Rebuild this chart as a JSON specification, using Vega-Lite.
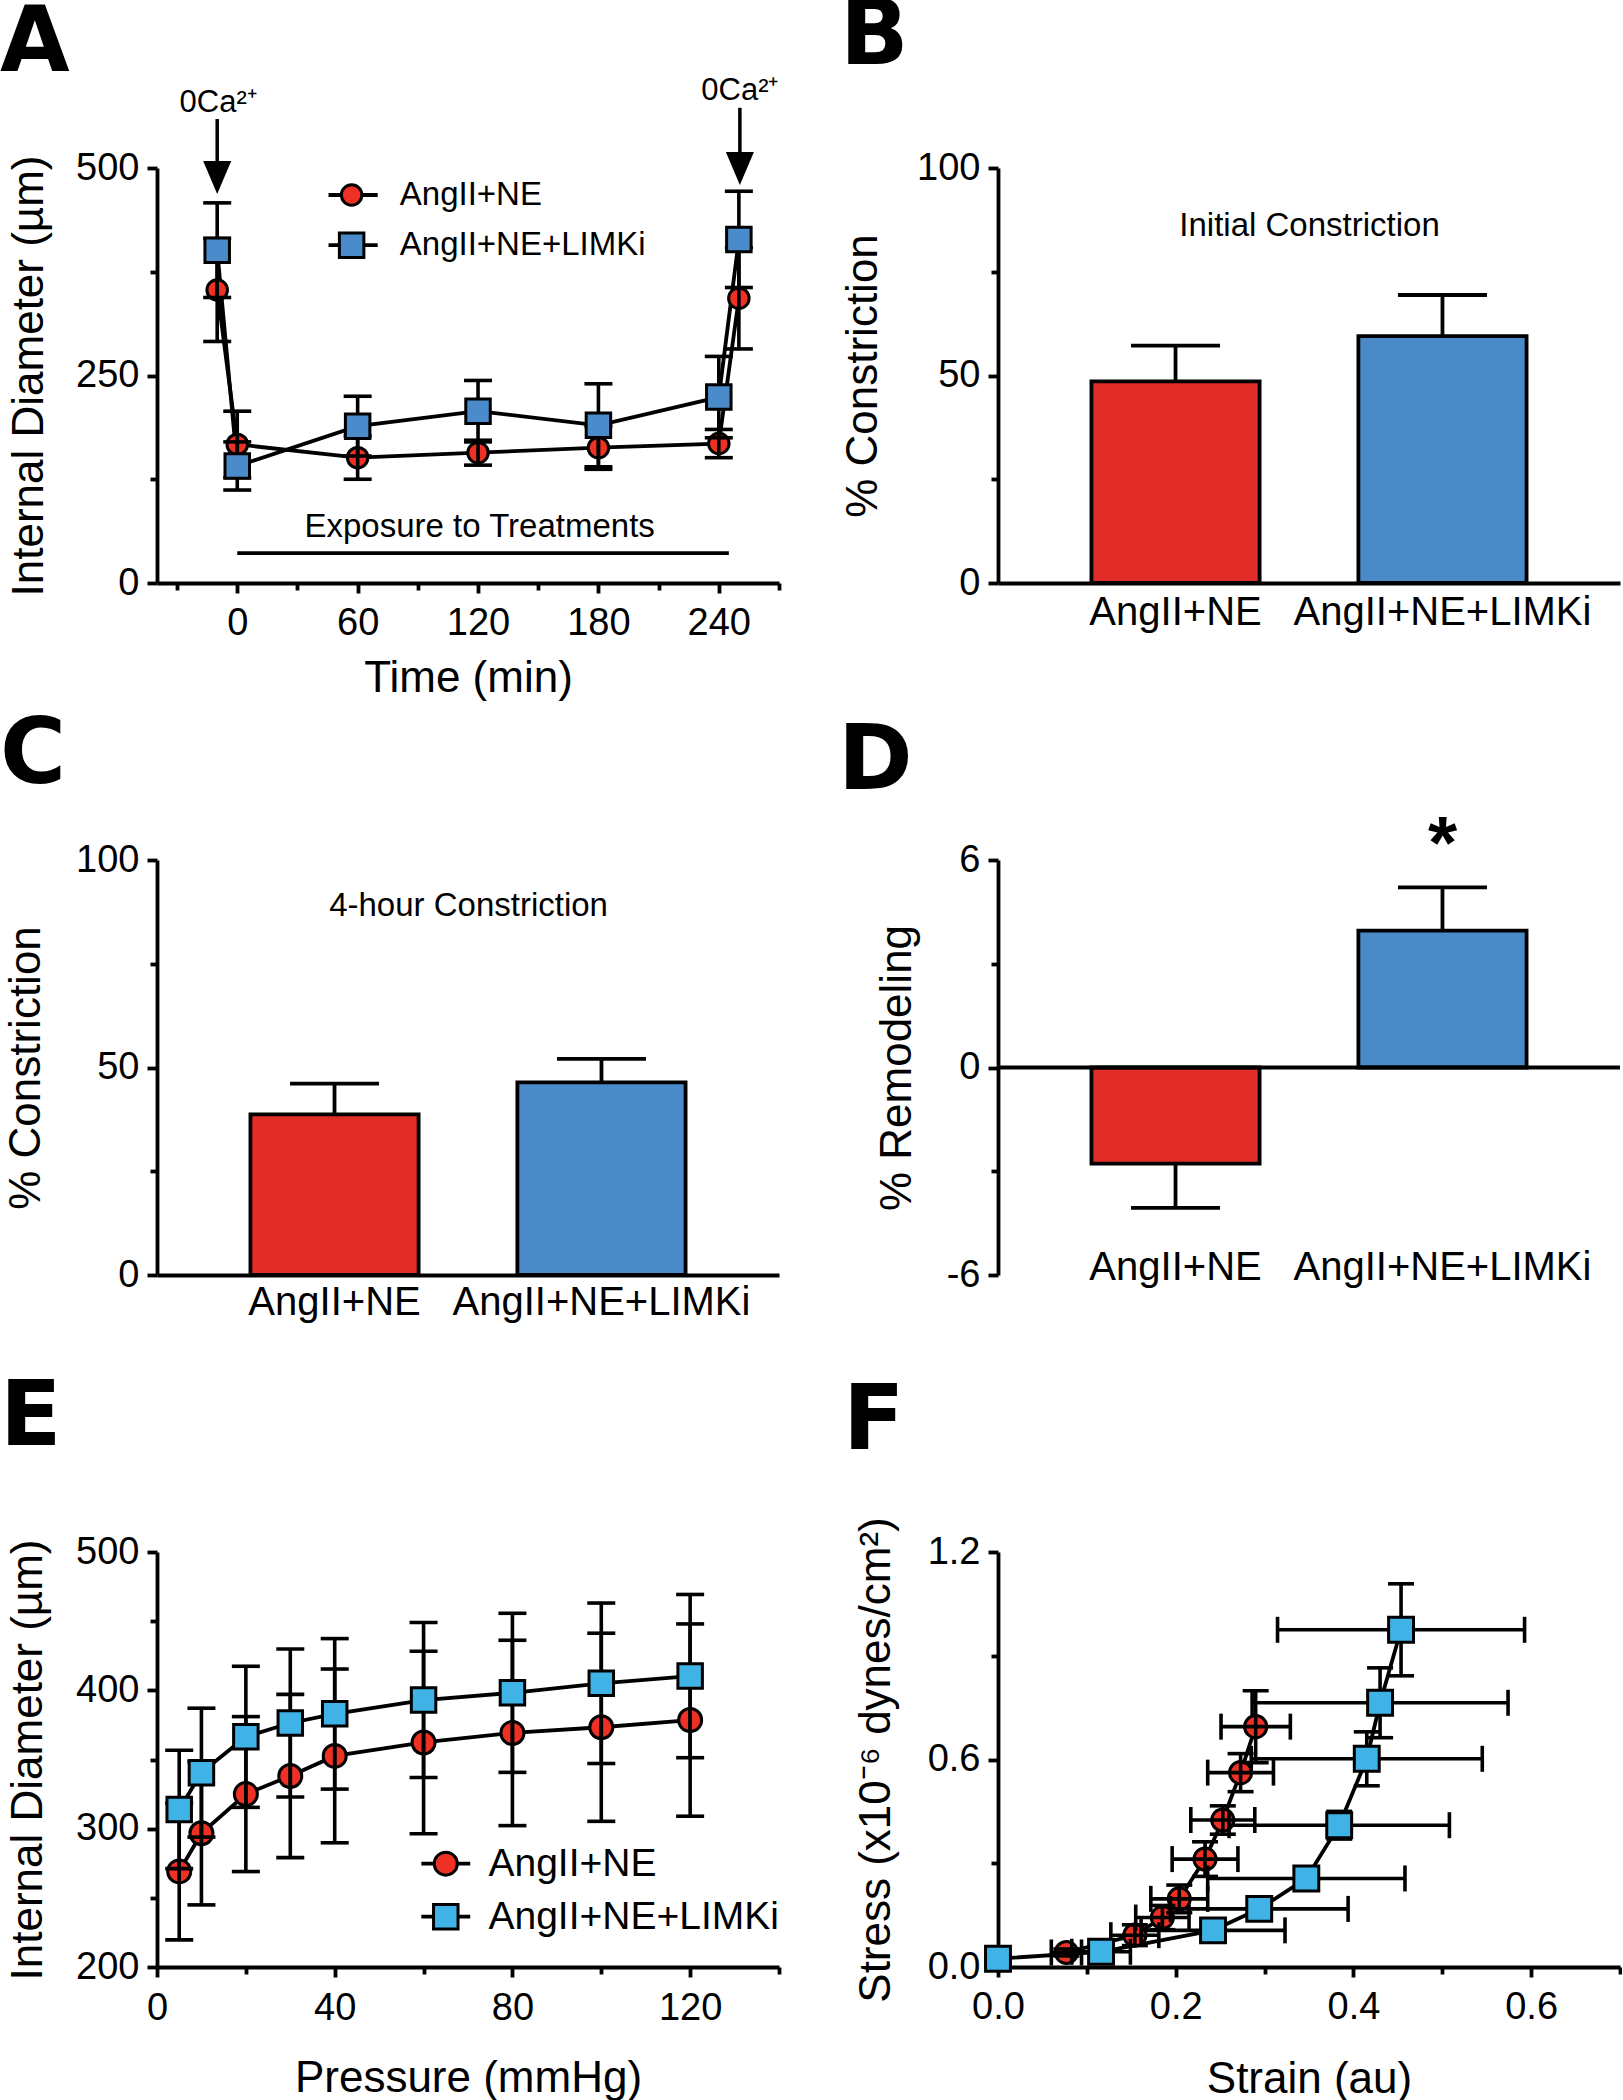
{
  "$schema": "https://vega.github.io/schema/vega-lite/v6.json",
  "background": "white",
  "padding": {"left": 0, "top": -9, "right": 0, "bottom": 0},
  "columns": 2,
  "bounds": "flush",
  "align": "all",
  "spacing": {"row": 277, "column": 219},
  "config": {
    "font": "Liberation Sans, Arial, Helvetica, sans-serif",
    "view": {"stroke": null},
    "axis": {
      "domainColor": "black", "domainWidth": 3.8, "tickColor": "black", "tickWidth": 3.8, "tickSize": 10,
      "labelFontSize": 38, "labelColor": "black", "labelPadding": 8, "labelFlush": false, "labelOverlap": false, "labelBound": false, "labelLimit": 0,
      "titleFontSize": 44, "titleFontWeight": "normal", "titleColor": "black", "grid": false
    },
    "title": {"font": "DejaVu Sans, Liberation Sans, sans-serif", "fontSize": 90, "fontWeight": "bold", "anchor": "start", "frame": "group", "color": "black", "baseline": "alphabetic"}
  },
  "concat": [
    {
      "title": {"text": "A", "dx": -157, "offset": -15.5},
      "width": 622, "height": 415,
      "data": {"values": [
        {"series": "AngII+NE", "time": -10, "diameter": 353, "sem": 62},
        {"series": "AngII+NE", "time": 0, "diameter": 167, "sem": 40},
        {"series": "AngII+NE", "time": 60, "diameter": 151, "sem": 26},
        {"series": "AngII+NE", "time": 120, "diameter": 157, "sem": 15},
        {"series": "AngII+NE", "time": 180, "diameter": 163, "sem": 26},
        {"series": "AngII+NE", "time": 240, "diameter": 168, "sem": 17},
        {"series": "AngII+NE", "time": 250, "diameter": 343, "sem": 61},
        {"series": "AngII+NE+LIMKi", "time": -10, "diameter": 401, "sem": 57},
        {"series": "AngII+NE+LIMKi", "time": 0, "diameter": 141, "sem": 29},
        {"series": "AngII+NE+LIMKi", "time": 60, "diameter": 189, "sem": 36},
        {"series": "AngII+NE+LIMKi", "time": 120, "diameter": 207, "sem": 37},
        {"series": "AngII+NE+LIMKi", "time": 180, "diameter": 190, "sem": 50},
        {"series": "AngII+NE+LIMKi", "time": 240, "diameter": 224, "sem": 49},
        {"series": "AngII+NE+LIMKi", "time": 250, "diameter": 414, "sem": 58}
      ]},
      "layer": [
        {
          "mark": {"type": "line", "color": "black", "strokeWidth": 3.8},
          "encoding": {
            "x": {"field": "time", "type": "quantitative", "title": "Time (min)", "scale": {"domain": [-40, 270], "nice": false, "zero": false},
              "axis": {"values": [-30, 0, 30, 60, 90, 120, 150, 180, 210, 240, 270],
                "labelExpr": "datum.value % 60 == 0 ? datum.label : ''",
                "tickSize": {"condition": {"test": "datum.value % 60 == 0", "value": 10}, "value": 7},
                "labelPadding": 11, "titlePadding": 14}},
            "y": {"field": "diameter", "type": "quantitative", "title": "Internal Diameter (µm)", "scale": {"domain": [0, 500], "nice": false},
              "axis": {"values": [0, 125, 250, 375, 500],
                "labelExpr": "datum.value % 250 == 0 ? datum.label : ''",
                "tickSize": {"condition": {"test": "datum.value % 250 == 0", "value": 10}, "value": 7},
                "titlePadding": 24}},
            "detail": {"field": "series"}
          }
        },
        {
          "transform": [{"filter": "datum.series == 'AngII+NE'"}],
          "mark": {"type": "point", "shape": "circle", "filled": true, "fill": "#ee3124", "stroke": "black", "strokeWidth": 3, "size": 420, "opacity": 1},
          "encoding": {"x": {"field": "time", "type": "quantitative", "title": "Time (min)"}, "y": {"field": "diameter", "type": "quantitative", "title": "Internal Diameter (µm)"}}
        },
        {
          "mark": {"type": "errorbar", "size": 28, "thickness": 3.6, "ticks": {"color": "black", "opacity": 1}, "rule": {"color": "black"}},
          "encoding": {"x": {"field": "time", "type": "quantitative", "title": "Time (min)"}, "y": {"field": "diameter", "type": "quantitative", "title": "Internal Diameter (µm)"}, "yError": {"field": "sem"}}
        },
        {
          "transform": [{"filter": "datum.series == 'AngII+NE+LIMKi'"}],
          "mark": {"type": "point", "shape": "square", "filled": true, "fill": "#4a8bcb", "stroke": "black", "strokeWidth": 3, "size": 600, "opacity": 1},
          "encoding": {"x": {"field": "time", "type": "quantitative", "title": "Time (min)"}, "y": {"field": "diameter", "type": "quantitative", "title": "Internal Diameter (µm)"}}
        },
        {
          "data": {"values": [{"label": "Exposure to Treatments"}]},
          "layer": [
            {"mark": {"type": "rule", "color": "black", "strokeWidth": 3.8}, "encoding": {"x": {"datum": 0}, "x2": {"datum": 245}, "y": {"datum": 36}}},
            {"mark": {"type": "text", "fontSize": 33, "align": "center", "baseline": "middle"}, "encoding": {"x": {"datum": 120.8}, "y": {"datum": 67.5}, "text": {"field": "label"}}}
          ]
        },
        {
          "data": {"values": [{"label": "0Ca²⁺"}]},
          "layer": [
            {"mark": {"type": "rule", "color": "black", "strokeWidth": 3.5}, "encoding": {"x": {"datum": -10}, "y": {"datum": 559}, "y2": {"datum": 492}}},
            {"mark": {"type": "point", "shape": "M0,1L-0.85,-1L0.85,-1Z", "filled": true, "color": "black", "opacity": 1, "size": 1089}, "encoding": {"x": {"datum": -10}, "y": {"datum": 488.6}}},
            {"mark": {"type": "text", "fontSize": 31, "align": "center", "baseline": "alphabetic"}, "encoding": {"x": {"datum": -9.5}, "y": {"datum": 568}, "text": {"field": "label"}}},
            {"mark": {"type": "rule", "color": "black", "strokeWidth": 3.5}, "encoding": {"x": {"datum": 250.5}, "y": {"datum": 572.5}, "y2": {"datum": 503}}},
            {"mark": {"type": "point", "shape": "M0,1L-0.85,-1L0.85,-1Z", "filled": true, "color": "black", "opacity": 1, "size": 1089}, "encoding": {"x": {"datum": 250.5}, "y": {"datum": 499.4}}},
            {"mark": {"type": "text", "fontSize": 31, "align": "center", "baseline": "alphabetic"}, "encoding": {"x": {"datum": 250.5}, "y": {"datum": 582}, "text": {"field": "label"}}}
          ]
        },
        {
          "data": {"values": [{"label": "AngII+NE"}]},
          "layer": [
            {"mark": {"type": "rule", "color": "black", "strokeWidth": 3.8}, "encoding": {"x": {"datum": 45.5}, "x2": {"datum": 70}, "y": {"datum": 467.5}}},
            {"mark": {"type": "point", "shape": "circle", "filled": true, "fill": "#ee3124", "stroke": "black", "strokeWidth": 3, "size": 420, "opacity": 1}, "encoding": {"x": {"datum": 57}, "y": {"datum": 467.5}}},
            {"mark": {"type": "text", "fontSize": 33, "align": "left", "baseline": "middle"}, "encoding": {"x": {"datum": 81}, "y": {"datum": 467.5}, "text": {"field": "label"}}}
          ]
        },
        {
          "data": {"values": [{"label": "AngII+NE+LIMKi"}]},
          "layer": [
            {"mark": {"type": "rule", "color": "black", "strokeWidth": 3.8}, "encoding": {"x": {"datum": 45.5}, "x2": {"datum": 70}, "y": {"datum": 407}}},
            {"mark": {"type": "point", "shape": "square", "filled": true, "fill": "#4a8bcb", "stroke": "black", "strokeWidth": 3, "size": 600, "opacity": 1}, "encoding": {"x": {"datum": 57}, "y": {"datum": 407}}},
            {"mark": {"type": "text", "fontSize": 33, "align": "left", "baseline": "middle"}, "encoding": {"x": {"datum": 81}, "y": {"datum": 407}, "text": {"field": "label"}}}
          ]
        }
      ]
    },
    {
      "title": {"text": "B", "dx": -158, "offset": 66.5},
      "width": 622, "height": 415,
      "data": {"values": [
        {"group": "AngII+NE", "constriction": 48.6, "upper": 57.2},
        {"group": "AngII+NE+LIMKi", "constriction": 59.5, "upper": 69.4}
      ]},
      "layer": [
        {"mark": {"type": "rule", "strokeWidth": 3.8, "color": "black"},
         "encoding": {
          "x": {"field": "group", "type": "nominal", "title": null, "sort": null, "scale": {"domain": ["AngII+NE", "AngII+NE+LIMKi"], "paddingInner": 0.37, "paddingOuter": 0.35},
            "axis": {"labelAngle": 0, "ticks": false, "tickSize": 0, "labelPadding": 9, "labelFontSize": 40}},
          "y": {"field": "constriction", "type": "quantitative", "title": "% Constriction", "scale": {"domain": [0, 100], "nice": false},
            "axis": {"values": [0, 25, 50, 75, 100],
              "labelExpr": "datum.value % 50 == 0 ? datum.label : ''",
              "tickSize": {"condition": {"test": "datum.value % 50 == 0", "value": 10}, "value": 7},
              "titlePadding": 31}},
          "y2": {"field": "upper"}}},
        {"mark": {"type": "tick", "size": 89, "thickness": 3.8, "color": "black", "opacity": 1},
         "encoding": {"x": {"field": "group", "type": "nominal", "title": null, "sort": null}, "y": {"field": "upper", "type": "quantitative", "title": "% Constriction"}}},
        {"mark": {"type": "bar", "stroke": "black", "strokeWidth": 3.8, "opacity": 1},
         "encoding": {"x": {"field": "group", "type": "nominal", "title": null, "sort": null}, "y": {"field": "constriction", "type": "quantitative", "title": "% Constriction"},
           "fill": {"field": "group", "type": "nominal", "scale": {"domain": ["AngII+NE", "AngII+NE+LIMKi"], "range": ["#e22c28", "#4a8ac8"]}, "legend": null}}},
        {"data": {"values": [{"label": "Initial Constriction"}]},
         "mark": {"type": "text", "fontSize": 33, "dx": 134, "align": "center", "baseline": "middle"},
         "encoding": {"x": {"datum": "AngII+NE"}, "y": {"datum": 86}, "text": {"field": "label"}}}
      ]
    },
    {
      "title": {"text": "C", "dx": -157, "offset": 39},
      "width": 622, "height": 415,
      "data": {"values": [
        {"group": "AngII+NE", "constriction": 38.7, "upper": 46.1},
        {"group": "AngII+NE+LIMKi", "constriction": 46.4, "upper": 52.1}
      ]},
      "layer": [
        {"mark": {"type": "rule", "strokeWidth": 3.8, "color": "black"},
         "encoding": {
          "x": {"field": "group", "type": "nominal", "title": null, "sort": null, "scale": {"domain": ["AngII+NE", "AngII+NE+LIMKi"], "paddingInner": 0.37, "paddingOuter": 0.35},
            "axis": {"labelAngle": 0, "ticks": false, "tickSize": 0, "labelPadding": 7, "labelFontSize": 40}},
          "y": {"field": "constriction", "type": "quantitative", "title": "% Constriction", "scale": {"domain": [0, 100], "nice": false},
            "axis": {"values": [0, 25, 50, 75, 100],
              "labelExpr": "datum.value % 50 == 0 ? datum.label : ''",
              "tickSize": {"condition": {"test": "datum.value % 50 == 0", "value": 10}, "value": 7},
              "titlePadding": 27}},
          "y2": {"field": "upper"}}},
        {"mark": {"type": "tick", "size": 89, "thickness": 3.8, "color": "black", "opacity": 1},
         "encoding": {"x": {"field": "group", "type": "nominal", "title": null, "sort": null}, "y": {"field": "upper", "type": "quantitative", "title": "% Constriction"}}},
        {"mark": {"type": "bar", "stroke": "black", "strokeWidth": 3.8, "opacity": 1},
         "encoding": {"x": {"field": "group", "type": "nominal", "title": null, "sort": null}, "y": {"field": "constriction", "type": "quantitative", "title": "% Constriction"},
           "fill": {"field": "group", "type": "nominal", "scale": {"domain": ["AngII+NE", "AngII+NE+LIMKi"], "range": ["#ec3526", "#4a8ac8"]}, "legend": null}}},
        {"data": {"values": [{"label": "4-hour Constriction"}]},
         "mark": {"type": "text", "fontSize": 33, "dx": 134, "align": "center", "baseline": "middle"},
         "encoding": {"x": {"datum": "AngII+NE"}, "y": {"datum": 88.8}, "text": {"field": "label"}}}
      ]
    },
    {
      "title": {"text": "D", "dx": -160, "offset": 0},
      "width": 622, "height": 415,
      "data": {"values": [
        {"group": "AngII+NE", "remodeling": -2.78, "cap": -4.06},
        {"group": "AngII+NE+LIMKi", "remodeling": 3.96, "cap": 5.21}
      ]},
      "layer": [
        {"mark": {"type": "rule", "strokeWidth": 3.8, "color": "black"},
         "encoding": {
          "x": {"field": "group", "type": "nominal", "title": null, "sort": null, "scale": {"domain": ["AngII+NE", "AngII+NE+LIMKi"], "paddingInner": 0.37, "paddingOuter": 0.35},
            "axis": {"labelAngle": 0, "ticks": false, "tickSize": 0, "domain": false, "labelPadding": -28, "labelFontSize": 40}},
          "y": {"field": "remodeling", "type": "quantitative", "title": "% Remodeling", "scale": {"domain": [-6, 6], "nice": false},
            "axis": {"values": [-6, -3, 0, 3, 6],
              "labelExpr": "datum.value == 0 ? '0' : datum.value == 6 ? '6' : datum.value == -6 ? '-6' : ''",
              "tickSize": {"condition": {"test": "datum.value % 6 == 0", "value": 10}, "value": 7},
              "titlePadding": 27}},
          "y2": {"field": "cap"}}},
        {"mark": {"type": "tick", "size": 89, "thickness": 3.8, "color": "black", "opacity": 1},
         "encoding": {"x": {"field": "group", "type": "nominal", "title": null, "sort": null}, "y": {"field": "cap", "type": "quantitative", "title": "% Remodeling"}}},
        {"mark": {"type": "bar", "stroke": "black", "strokeWidth": 3.8, "opacity": 1},
         "encoding": {"x": {"field": "group", "type": "nominal", "title": null, "sort": null}, "y": {"field": "remodeling", "type": "quantitative", "title": "% Remodeling"},
           "fill": {"field": "group", "type": "nominal", "scale": {"domain": ["AngII+NE", "AngII+NE+LIMKi"], "range": ["#e22c28", "#4a8ac8"]}, "legend": null}}},
        {"data": {"values": [{"label": "zero line"}]},
         "mark": {"type": "rule", "strokeWidth": 3.8, "color": "black"},
         "encoding": {"y": {"datum": 0}}},
        {"data": {"values": [{"label": "*"}]},
         "mark": {"type": "text", "fontSize": 75, "fontWeight": "bold", "align": "center", "baseline": "alphabetic"},
         "encoding": {"x": {"datum": "AngII+NE+LIMKi"}, "y": {"datum": 5.77}, "text": {"field": "label"}}}
      ]
    },
    {
      "title": {"text": "E", "dx": -157, "offset": 69.5},
      "width": 622, "height": 415,
      "data": {"values": [
        {"series": "AngII+NE", "pressure": 5, "diameter": 269.1, "sem": 49.5},
        {"series": "AngII+NE", "pressure": 10, "diameter": 296.7, "sem": 51.8},
        {"series": "AngII+NE", "pressure": 20, "diameter": 325.0, "sem": 56},
        {"series": "AngII+NE", "pressure": 30, "diameter": 338.1, "sem": 59},
        {"series": "AngII+NE", "pressure": 40, "diameter": 352.6, "sem": 62.8},
        {"series": "AngII+NE", "pressure": 60, "diameter": 362.3, "sem": 66},
        {"series": "AngII+NE", "pressure": 80, "diameter": 369.2, "sem": 67},
        {"series": "AngII+NE", "pressure": 100, "diameter": 373.3, "sem": 68},
        {"series": "AngII+NE", "pressure": 120, "diameter": 378.5, "sem": 69.5},
        {"series": "AngII+NE+LIMKi", "pressure": 5, "diameter": 313.9, "sem": 42.8},
        {"series": "AngII+NE+LIMKi", "pressure": 10, "diameter": 340.5, "sem": 46.6},
        {"series": "AngII+NE+LIMKi", "pressure": 20, "diameter": 366.4, "sem": 51},
        {"series": "AngII+NE+LIMKi", "pressure": 30, "diameter": 376.4, "sem": 53.5},
        {"series": "AngII+NE+LIMKi", "pressure": 40, "diameter": 383.0, "sem": 54.4},
        {"series": "AngII+NE+LIMKi", "pressure": 60, "diameter": 393.0, "sem": 56},
        {"series": "AngII+NE+LIMKi", "pressure": 80, "diameter": 398.2, "sem": 57.5},
        {"series": "AngII+NE+LIMKi", "pressure": 100, "diameter": 405.1, "sem": 58},
        {"series": "AngII+NE+LIMKi", "pressure": 120, "diameter": 410.3, "sem": 59}
      ]},
      "layer": [
        {
          "mark": {"type": "line", "color": "black", "strokeWidth": 3.8},
          "encoding": {
            "x": {"field": "pressure", "type": "quantitative", "title": "Pressure (mmHg)", "scale": {"domain": [0, 140], "nice": false},
              "axis": {"values": [0, 20, 40, 60, 80, 100, 120, 140],
                "labelExpr": "datum.value % 40 == 0 ? datum.label : ''",
                "tickSize": {"condition": {"test": "datum.value % 40 == 0", "value": 10}, "value": 7},
                "labelPadding": 12, "titlePadding": 29}},
            "y": {"field": "diameter", "type": "quantitative", "title": "Internal Diameter (µm)", "scale": {"domain": [200, 500], "nice": false, "zero": false},
              "axis": {"values": [200, 250, 300, 350, 400, 450, 500],
                "labelExpr": "datum.value % 100 == 0 ? datum.label : ''",
                "tickSize": {"condition": {"test": "datum.value % 100 == 0", "value": 10}, "value": 7},
                "titlePadding": 25}},
            "detail": {"field": "series"}
          }
        },
        {
          "transform": [{"filter": "datum.series == 'AngII+NE'"}],
          "mark": {"type": "point", "shape": "circle", "filled": true, "fill": "#ee3124", "stroke": "black", "strokeWidth": 3, "size": 530, "opacity": 1},
          "encoding": {"x": {"field": "pressure", "type": "quantitative", "title": "Pressure (mmHg)"}, "y": {"field": "diameter", "type": "quantitative", "title": "Internal Diameter (µm)"}}
        },
        {
          "mark": {"type": "errorbar", "size": 28, "thickness": 3.6, "ticks": {"color": "black", "opacity": 1}, "rule": {"color": "black"}},
          "encoding": {"x": {"field": "pressure", "type": "quantitative", "title": "Pressure (mmHg)"}, "y": {"field": "diameter", "type": "quantitative", "title": "Internal Diameter (µm)"}, "yError": {"field": "sem"}}
        },
        {
          "transform": [{"filter": "datum.series == 'AngII+NE+LIMKi'"}],
          "mark": {"type": "point", "shape": "square", "filled": true, "fill": "#40b3e6", "stroke": "black", "strokeWidth": 3, "size": 600, "opacity": 1},
          "encoding": {"x": {"field": "pressure", "type": "quantitative", "title": "Pressure (mmHg)"}, "y": {"field": "diameter", "type": "quantitative", "title": "Internal Diameter (µm)"}}
        },
        {
          "data": {"values": [{"label": "AngII+NE"}]},
          "layer": [
            {"mark": {"type": "rule", "color": "black", "strokeWidth": 3.8}, "encoding": {"x": {"datum": 59.5}, "x2": {"datum": 70.5}, "y": {"datum": 274.7}}},
            {"mark": {"type": "point", "shape": "circle", "filled": true, "fill": "#ee3124", "stroke": "black", "strokeWidth": 3, "size": 530, "opacity": 1}, "encoding": {"x": {"datum": 65}, "y": {"datum": 274.7}}},
            {"mark": {"type": "text", "fontSize": 39, "align": "left", "baseline": "middle"}, "encoding": {"x": {"datum": 74.6}, "y": {"datum": 274.7}, "text": {"field": "label"}}}
          ]
        },
        {
          "data": {"values": [{"label": "AngII+NE+LIMKi"}]},
          "layer": [
            {"mark": {"type": "rule", "color": "black", "strokeWidth": 3.8}, "encoding": {"x": {"datum": 59.5}, "x2": {"datum": 70.5}, "y": {"datum": 236.4}}},
            {"mark": {"type": "point", "shape": "square", "filled": true, "fill": "#40b3e6", "stroke": "black", "strokeWidth": 3, "size": 600, "opacity": 1}, "encoding": {"x": {"datum": 65}, "y": {"datum": 236.4}}},
            {"mark": {"type": "text", "fontSize": 39, "align": "left", "baseline": "middle"}, "encoding": {"x": {"datum": 74.6}, "y": {"datum": 236.4}, "text": {"field": "label"}}}
          ]
        }
      ]
    },
    {
      "title": {"text": "F", "dx": -155, "offset": 49},
      "width": 622, "height": 415,
      "data": {"values": [
        {"series": "AngII+NE", "strain": 0.077, "stress": 0.042, "xerr": 0.017, "yerr": 0.01},
        {"series": "AngII+NE", "strain": 0.154, "stress": 0.092, "xerr": 0.027, "yerr": 0.03},
        {"series": "AngII+NE", "strain": 0.185, "stress": 0.143, "xerr": 0.03, "yerr": 0.035},
        {"series": "AngII+NE", "strain": 0.204, "stress": 0.197, "xerr": 0.032, "yerr": 0.04},
        {"series": "AngII+NE", "strain": 0.233, "stress": 0.312, "xerr": 0.037, "yerr": 0.05},
        {"series": "AngII+NE", "strain": 0.253, "stress": 0.425, "xerr": 0.036, "yerr": 0.041},
        {"series": "AngII+NE", "strain": 0.273, "stress": 0.562, "xerr": 0.037, "yerr": 0.055},
        {"series": "AngII+NE", "strain": 0.290, "stress": 0.695, "xerr": 0.039, "yerr": 0.104},
        {"series": "AngII+NE+LIMKi", "strain": 0.0, "stress": 0.024, "xerr": 0.0, "yerr": 0.005},
        {"series": "AngII+NE+LIMKi", "strain": 0.116, "stress": 0.044, "xerr": 0.033, "yerr": 0.01},
        {"series": "AngII+NE+LIMKi", "strain": 0.242, "stress": 0.106, "xerr": 0.081, "yerr": 0.02},
        {"series": "AngII+NE+LIMKi", "strain": 0.294, "stress": 0.168, "xerr": 0.1, "yerr": 0.025},
        {"series": "AngII+NE+LIMKi", "strain": 0.347, "stress": 0.256, "xerr": 0.111, "yerr": 0.03},
        {"series": "AngII+NE+LIMKi", "strain": 0.384, "stress": 0.41, "xerr": 0.124, "yerr": 0.04},
        {"series": "AngII+NE+LIMKi", "strain": 0.415, "stress": 0.602, "xerr": 0.13, "yerr": 0.078},
        {"series": "AngII+NE+LIMKi", "strain": 0.430, "stress": 0.764, "xerr": 0.144, "yerr": 0.101},
        {"series": "AngII+NE+LIMKi", "strain": 0.4536, "stress": 0.975, "xerr": 0.139, "yerr": 0.133}
      ]},
      "layer": [
        {
          "mark": {"type": "line", "color": "black", "strokeWidth": 3.8},
          "encoding": {
            "x": {"field": "strain", "type": "quantitative", "title": "Strain (au)", "scale": {"domain": [0, 0.7], "nice": false},
              "axis": {"values": [0, 0.1, 0.2, 0.3, 0.4, 0.5, 0.6, 0.7], "format": ".1f",
                "labelExpr": "round(datum.value * 10) % 2 == 0 ? datum.label : ''",
                "tickSize": {"condition": {"test": "round(datum.value * 10) % 2 == 0", "value": 10}, "value": 7},
                "labelPadding": 11, "titlePadding": 31}},
            "y": {"field": "stress", "type": "quantitative", "title": "Stress (x10⁻⁶ dynes/cm²)", "scale": {"domain": [0, 1.2], "nice": false},
              "axis": {"values": [0, 0.3, 0.6, 0.9, 1.2], "format": ".1f",
                "labelExpr": "round(datum.value * 10) % 6 == 0 ? datum.label : ''",
                "tickSize": {"condition": {"test": "round(datum.value * 10) % 6 == 0", "value": 10}, "value": 7},
                "titlePadding": 29}},
            "detail": {"field": "series"}
          }
        },
        {
          "transform": [{"filter": "datum.series == 'AngII+NE'"}],
          "mark": {"type": "point", "shape": "circle", "filled": true, "fill": "#ee3124", "stroke": "black", "strokeWidth": 3, "size": 490, "opacity": 1},
          "encoding": {"x": {"field": "strain", "type": "quantitative", "title": "Strain (au)"}, "y": {"field": "stress", "type": "quantitative", "title": "Stress (x10⁻⁶ dynes/cm²)"}}
        },
        {
          "mark": {"type": "errorbar", "size": 26, "thickness": 3.6, "ticks": {"color": "black", "opacity": 1}, "rule": {"color": "black"}},
          "encoding": {"x": {"field": "strain", "type": "quantitative", "title": "Strain (au)"}, "xError": {"field": "xerr"}, "y": {"field": "stress", "type": "quantitative", "title": "Stress (x10⁻⁶ dynes/cm²)"}}
        },
        {
          "mark": {"type": "errorbar", "size": 26, "thickness": 3.6, "ticks": {"color": "black", "opacity": 1}, "rule": {"color": "black"}},
          "encoding": {"x": {"field": "strain", "type": "quantitative", "title": "Strain (au)"}, "y": {"field": "stress", "type": "quantitative", "title": "Stress (x10⁻⁶ dynes/cm²)"}, "yError": {"field": "yerr"}}
        },
        {
          "transform": [{"filter": "datum.series == 'AngII+NE+LIMKi'"}],
          "mark": {"type": "point", "shape": "square", "filled": true, "fill": "#40b3e6", "stroke": "black", "strokeWidth": 3, "size": 620, "opacity": 1},
          "encoding": {"x": {"field": "strain", "type": "quantitative", "title": "Strain (au)"}, "y": {"field": "stress", "type": "quantitative", "title": "Stress (x10⁻⁶ dynes/cm²)"}}
        }
      ]
    }
  ]
}
